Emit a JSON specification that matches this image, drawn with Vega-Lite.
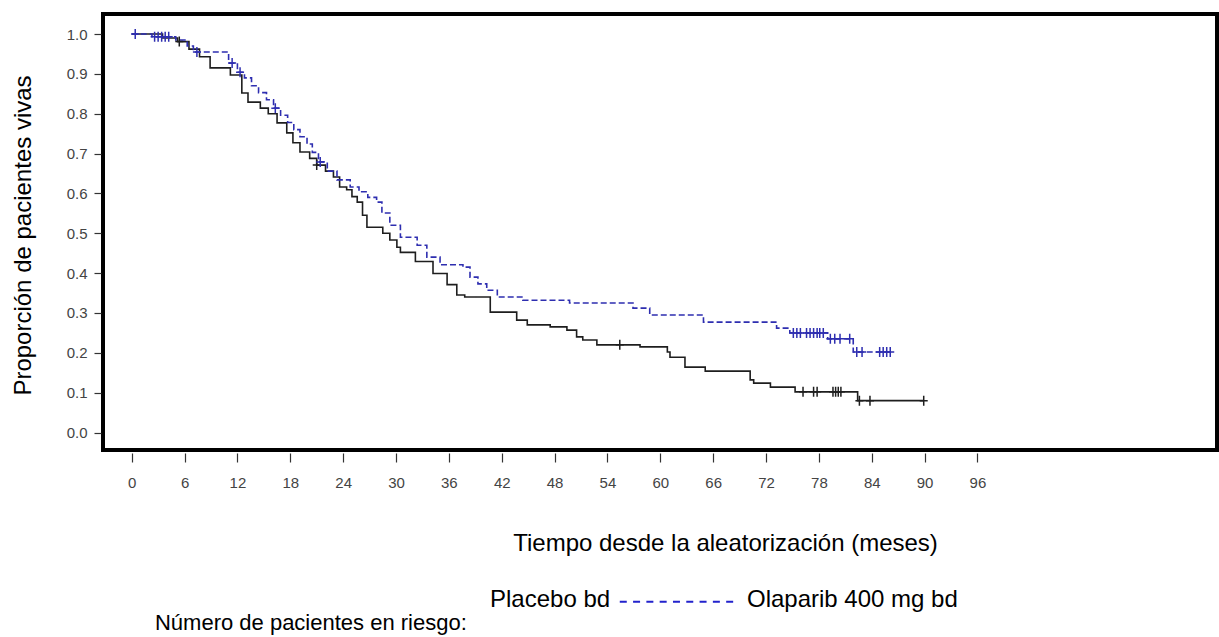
{
  "$schema": "https://vega.github.io/schema/vega-lite/v6.json",
  "width": 1114,
  "height": 436,
  "autosize": {"type": "none"},
  "padding": {"left": 103, "top": 14, "right": 2, "bottom": 187},
  "background": "white",
  "config": {
    "view": {"stroke": "black", "strokeWidth": 4},
    "font": "Liberation Sans"
  },
  "datasets": {
    "curves": [
      {"group": "Placebo bd", "month": 0, "surv": 1.0},
      {"group": "Placebo bd", "month": 3.5, "surv": 0.99},
      {"group": "Placebo bd", "month": 5.2, "surv": 0.981},
      {"group": "Placebo bd", "month": 6.5, "surv": 0.962},
      {"group": "Placebo bd", "month": 7.7, "surv": 0.943},
      {"group": "Placebo bd", "month": 8.9, "surv": 0.915},
      {"group": "Placebo bd", "month": 11.2, "surv": 0.897},
      {"group": "Placebo bd", "month": 12.5, "surv": 0.852},
      {"group": "Placebo bd", "month": 13.2, "surv": 0.829},
      {"group": "Placebo bd", "month": 14.6, "surv": 0.814},
      {"group": "Placebo bd", "month": 15.5, "surv": 0.8},
      {"group": "Placebo bd", "month": 16.5, "surv": 0.777},
      {"group": "Placebo bd", "month": 17.6, "surv": 0.752},
      {"group": "Placebo bd", "month": 18.3, "surv": 0.727},
      {"group": "Placebo bd", "month": 19.1, "surv": 0.704},
      {"group": "Placebo bd", "month": 20.2, "surv": 0.688},
      {"group": "Placebo bd", "month": 21.0, "surv": 0.671},
      {"group": "Placebo bd", "month": 22.0, "surv": 0.656},
      {"group": "Placebo bd", "month": 22.9, "surv": 0.641},
      {"group": "Placebo bd", "month": 23.6, "surv": 0.616},
      {"group": "Placebo bd", "month": 24.4, "surv": 0.609},
      {"group": "Placebo bd", "month": 25.0, "surv": 0.592},
      {"group": "Placebo bd", "month": 25.6, "surv": 0.578},
      {"group": "Placebo bd", "month": 26.2, "surv": 0.545},
      {"group": "Placebo bd", "month": 26.7, "surv": 0.515},
      {"group": "Placebo bd", "month": 28.5, "surv": 0.5},
      {"group": "Placebo bd", "month": 29.3, "surv": 0.483},
      {"group": "Placebo bd", "month": 30.1, "surv": 0.465},
      {"group": "Placebo bd", "month": 30.5, "surv": 0.452},
      {"group": "Placebo bd", "month": 32.2, "surv": 0.429},
      {"group": "Placebo bd", "month": 34.2, "surv": 0.399},
      {"group": "Placebo bd", "month": 35.8, "surv": 0.371},
      {"group": "Placebo bd", "month": 36.9, "surv": 0.345},
      {"group": "Placebo bd", "month": 37.8, "surv": 0.34},
      {"group": "Placebo bd", "month": 40.7, "surv": 0.302},
      {"group": "Placebo bd", "month": 43.7, "surv": 0.282},
      {"group": "Placebo bd", "month": 44.9, "surv": 0.27},
      {"group": "Placebo bd", "month": 47.5, "surv": 0.265},
      {"group": "Placebo bd", "month": 49.4, "surv": 0.257},
      {"group": "Placebo bd", "month": 50.5, "surv": 0.24},
      {"group": "Placebo bd", "month": 51.2, "surv": 0.232},
      {"group": "Placebo bd", "month": 52.8, "surv": 0.22},
      {"group": "Placebo bd", "month": 57.7, "surv": 0.215},
      {"group": "Placebo bd", "month": 60.8, "surv": 0.202},
      {"group": "Placebo bd", "month": 61.1, "surv": 0.189},
      {"group": "Placebo bd", "month": 62.8, "surv": 0.164},
      {"group": "Placebo bd", "month": 65.1, "surv": 0.154},
      {"group": "Placebo bd", "month": 70.2, "surv": 0.132},
      {"group": "Placebo bd", "month": 70.6, "surv": 0.124},
      {"group": "Placebo bd", "month": 72.5, "surv": 0.114},
      {"group": "Placebo bd", "month": 75.3, "surv": 0.102},
      {"group": "Placebo bd", "month": 82.4, "surv": 0.08},
      {"group": "Placebo bd", "month": 89.9, "surv": 0.08},
      {"group": "Olaparib 400 mg bd", "month": 0, "surv": 1.0},
      {"group": "Olaparib 400 mg bd", "month": 2.3, "surv": 0.993},
      {"group": "Olaparib 400 mg bd", "month": 5.0, "surv": 0.985},
      {"group": "Olaparib 400 mg bd", "month": 6.3, "surv": 0.97},
      {"group": "Olaparib 400 mg bd", "month": 7.0, "surv": 0.955},
      {"group": "Olaparib 400 mg bd", "month": 11.0, "surv": 0.927},
      {"group": "Olaparib 400 mg bd", "month": 12.0, "surv": 0.904},
      {"group": "Olaparib 400 mg bd", "month": 12.8, "surv": 0.89},
      {"group": "Olaparib 400 mg bd", "month": 13.6, "surv": 0.87},
      {"group": "Olaparib 400 mg bd", "month": 14.4, "surv": 0.853},
      {"group": "Olaparib 400 mg bd", "month": 15.3, "surv": 0.835},
      {"group": "Olaparib 400 mg bd", "month": 16.1, "surv": 0.814},
      {"group": "Olaparib 400 mg bd", "month": 16.9, "surv": 0.796},
      {"group": "Olaparib 400 mg bd", "month": 17.7, "surv": 0.778},
      {"group": "Olaparib 400 mg bd", "month": 18.4, "surv": 0.76},
      {"group": "Olaparib 400 mg bd", "month": 19.1, "surv": 0.742},
      {"group": "Olaparib 400 mg bd", "month": 19.9, "surv": 0.724},
      {"group": "Olaparib 400 mg bd", "month": 20.5, "surv": 0.703},
      {"group": "Olaparib 400 mg bd", "month": 21.2, "surv": 0.679},
      {"group": "Olaparib 400 mg bd", "month": 22.2, "surv": 0.656},
      {"group": "Olaparib 400 mg bd", "month": 23.3, "surv": 0.634},
      {"group": "Olaparib 400 mg bd", "month": 24.8, "surv": 0.616},
      {"group": "Olaparib 400 mg bd", "month": 25.8, "surv": 0.604},
      {"group": "Olaparib 400 mg bd", "month": 26.8, "surv": 0.59},
      {"group": "Olaparib 400 mg bd", "month": 27.8, "surv": 0.578},
      {"group": "Olaparib 400 mg bd", "month": 28.4, "surv": 0.551},
      {"group": "Olaparib 400 mg bd", "month": 29.3, "surv": 0.52},
      {"group": "Olaparib 400 mg bd", "month": 30.5, "surv": 0.49},
      {"group": "Olaparib 400 mg bd", "month": 32.4, "surv": 0.47},
      {"group": "Olaparib 400 mg bd", "month": 33.5, "surv": 0.44},
      {"group": "Olaparib 400 mg bd", "month": 35.0, "surv": 0.421},
      {"group": "Olaparib 400 mg bd", "month": 37.6, "surv": 0.415},
      {"group": "Olaparib 400 mg bd", "month": 38.4, "surv": 0.39},
      {"group": "Olaparib 400 mg bd", "month": 39.3, "surv": 0.373},
      {"group": "Olaparib 400 mg bd", "month": 40.3, "surv": 0.357},
      {"group": "Olaparib 400 mg bd", "month": 41.5, "surv": 0.34},
      {"group": "Olaparib 400 mg bd", "month": 44.4, "surv": 0.332},
      {"group": "Olaparib 400 mg bd", "month": 49.7, "surv": 0.325},
      {"group": "Olaparib 400 mg bd", "month": 56.9, "surv": 0.312},
      {"group": "Olaparib 400 mg bd", "month": 58.8, "surv": 0.295},
      {"group": "Olaparib 400 mg bd", "month": 64.9, "surv": 0.277},
      {"group": "Olaparib 400 mg bd", "month": 73.2, "surv": 0.262},
      {"group": "Olaparib 400 mg bd", "month": 74.7, "surv": 0.25},
      {"group": "Olaparib 400 mg bd", "month": 79.0, "surv": 0.235},
      {"group": "Olaparib 400 mg bd", "month": 81.9, "surv": 0.202},
      {"group": "Olaparib 400 mg bd", "month": 86.2, "surv": 0.202}
    ],
    "censors": [
      {"group": "Placebo bd", "month": 5.4, "surv": 0.981},
      {"group": "Placebo bd", "month": 21.0, "surv": 0.671},
      {"group": "Placebo bd", "month": 55.4, "surv": 0.22},
      {"group": "Placebo bd", "month": 76.2, "surv": 0.102},
      {"group": "Placebo bd", "month": 77.4, "surv": 0.102},
      {"group": "Placebo bd", "month": 77.8, "surv": 0.102},
      {"group": "Placebo bd", "month": 79.6, "surv": 0.102},
      {"group": "Placebo bd", "month": 79.9, "surv": 0.102},
      {"group": "Placebo bd", "month": 80.2, "surv": 0.102},
      {"group": "Placebo bd", "month": 80.5, "surv": 0.102},
      {"group": "Placebo bd", "month": 82.6, "surv": 0.08},
      {"group": "Placebo bd", "month": 83.8, "surv": 0.08},
      {"group": "Placebo bd", "month": 89.9, "surv": 0.08},
      {"group": "Olaparib 400 mg bd", "month": 0.4, "surv": 1.0},
      {"group": "Olaparib 400 mg bd", "month": 2.6, "surv": 0.993},
      {"group": "Olaparib 400 mg bd", "month": 3.0, "surv": 0.993},
      {"group": "Olaparib 400 mg bd", "month": 3.4, "surv": 0.993},
      {"group": "Olaparib 400 mg bd", "month": 3.8, "surv": 0.993},
      {"group": "Olaparib 400 mg bd", "month": 4.2, "surv": 0.993},
      {"group": "Olaparib 400 mg bd", "month": 7.4, "surv": 0.955},
      {"group": "Olaparib 400 mg bd", "month": 11.4, "surv": 0.927},
      {"group": "Olaparib 400 mg bd", "month": 12.3, "surv": 0.904},
      {"group": "Olaparib 400 mg bd", "month": 16.3, "surv": 0.814},
      {"group": "Olaparib 400 mg bd", "month": 21.4, "surv": 0.679},
      {"group": "Olaparib 400 mg bd", "month": 75.1, "surv": 0.25},
      {"group": "Olaparib 400 mg bd", "month": 75.5, "surv": 0.25},
      {"group": "Olaparib 400 mg bd", "month": 75.9, "surv": 0.25},
      {"group": "Olaparib 400 mg bd", "month": 76.6, "surv": 0.25},
      {"group": "Olaparib 400 mg bd", "month": 77.0, "surv": 0.25},
      {"group": "Olaparib 400 mg bd", "month": 77.4, "surv": 0.25},
      {"group": "Olaparib 400 mg bd", "month": 77.8, "surv": 0.25},
      {"group": "Olaparib 400 mg bd", "month": 78.1, "surv": 0.25},
      {"group": "Olaparib 400 mg bd", "month": 78.5, "surv": 0.25},
      {"group": "Olaparib 400 mg bd", "month": 79.3, "surv": 0.235},
      {"group": "Olaparib 400 mg bd", "month": 79.8, "surv": 0.235},
      {"group": "Olaparib 400 mg bd", "month": 80.4, "surv": 0.235},
      {"group": "Olaparib 400 mg bd", "month": 81.5, "surv": 0.235},
      {"group": "Olaparib 400 mg bd", "month": 82.3, "surv": 0.202},
      {"group": "Olaparib 400 mg bd", "month": 82.9, "surv": 0.202},
      {"group": "Olaparib 400 mg bd", "month": 84.9, "surv": 0.202},
      {"group": "Olaparib 400 mg bd", "month": 85.3, "surv": 0.202},
      {"group": "Olaparib 400 mg bd", "month": 85.7, "surv": 0.202},
      {"group": "Olaparib 400 mg bd", "month": 86.1, "surv": 0.202}
    ],
    "labels": [
      {"key": "placebo", "label": "Placebo bd"},
      {"key": "olaparib", "label": "Olaparib 400 mg bd"},
      {"key": "risk", "label": "Número de pacientes en riesgo:"}
    ]
  },
  "layer": [
    {
      "data": {"name": "curves"},
      "mark": {"type": "line", "interpolate": "step-after", "strokeWidth": 1.6},
      "encoding": {
        "x": {
          "field": "month", "type": "quantitative",
          "scale": {"domain": [-3.258, 123.19], "nice": false, "zero": false},
          "axis": {
            "values": [0, 6, 12, 18, 24, 30, 36, 42, 48, 54, 60, 66, 72, 78, 84, 90, 96],
            "domain": false, "grid": false,
            "tickSize": 9, "tickColor": "#333333", "tickWidth": 1.2,
            "offset": 3,
            "labelFont": "Liberation Sans", "labelFontSize": 15, "labelColor": "#444444",
            "labelPadding": 13, "labelFlush": false, "labelOverlap": false, "labelBound": false,
            "title": "Tiempo desde la aleatorización (meses)",
            "titleFont": "Liberation Sans", "titleFontSize": 24, "titleFontWeight": "normal",
            "titleColor": "black", "titleX": 622, "titleY": 97,
            "titleAlign": "center", "titleBaseline": "alphabetic"
          }
        },
        "y": {
          "field": "surv", "type": "quantitative",
          "scale": {"domain": [-0.0439, 1.0502], "nice": false, "zero": false},
          "axis": {
            "values": [0, 0.1, 0.2, 0.3, 0.4, 0.5, 0.6, 0.7, 0.8, 0.9, 1.0],
            "format": ".1f",
            "domain": false, "grid": false,
            "tickSize": 7, "tickColor": "#333333", "tickWidth": 1.2,
            "offset": 2,
            "labelFont": "Liberation Sans", "labelFontSize": 15, "labelColor": "#444444",
            "labelPadding": 7, "labelOverlap": false, "labelBound": false,
            "title": "Proporción de pacientes vivas",
            "titleFont": "Liberation Sans", "titleFontSize": 24, "titleFontWeight": "normal",
            "titleColor": "black", "titleX": -71, "titleY": 221, "titleAlign": "center", "titleBaseline": "alphabetic"
          }
        },
        "color": {
          "field": "group", "type": "nominal",
          "scale": {"domain": ["Placebo bd", "Olaparib 400 mg bd"], "range": ["#1e1e1e", "#2e2eb0"]},
          "legend": null
        },
        "strokeDash": {
          "field": "group", "type": "nominal",
          "scale": {"domain": ["Placebo bd", "Olaparib 400 mg bd"], "range": [[1, 0], [6, 3]]},
          "legend": null
        }
      }
    },
    {
      "data": {"name": "censors"},
      "mark": {"type": "point", "shape": "M0,-1L0,1M-0.8,0L0.8,0", "filled": false, "size": 100, "strokeWidth": 1.5, "opacity": 1},
      "encoding": {
        "x": {"field": "month", "type": "quantitative", "scale": {"domain": [-3.258, 123.19], "nice": false, "zero": false}},
        "y": {"field": "surv", "type": "quantitative", "scale": {"domain": [-0.0439, 1.0502], "nice": false, "zero": false}},
        "color": {
          "field": "group", "type": "nominal",
          "scale": {"domain": ["Placebo bd", "Olaparib 400 mg bd"], "range": ["#1e1e1e", "#2e2eb0"]},
          "legend": null
        }
      }
    },
    {
      "data": {"name": "labels"},
      "transform": [{"filter": "datum.key === 'placebo'"}],
      "mark": {"type": "text", "align": "left", "baseline": "alphabetic", "font": "Liberation Sans", "fontSize": 24, "color": "black"},
      "encoding": {
        "x": {"datum": 40.67, "type": "quantitative"},
        "y": {"datum": -0.4379, "type": "quantitative"},
        "text": {"field": "label"}
      }
    },
    {
      "data": {"name": "labels"},
      "transform": [{"filter": "datum.key === 'olaparib'"}],
      "mark": {"type": "text", "align": "left", "baseline": "alphabetic", "font": "Liberation Sans", "fontSize": 24, "color": "black"},
      "encoding": {
        "x": {"datum": 69.84, "type": "quantitative"},
        "y": {"datum": -0.4379, "type": "quantitative"},
        "text": {"field": "label"}
      }
    },
    {
      "data": {"name": "labels"},
      "transform": [{"filter": "datum.key === 'risk'"}],
      "mark": {"type": "text", "align": "left", "baseline": "alphabetic", "font": "Liberation Sans", "fontSize": 22, "color": "black"},
      "encoding": {
        "x": {"datum": 2.64, "type": "quantitative"},
        "y": {"datum": -0.4956, "type": "quantitative"},
        "text": {"field": "label"}
      }
    },
    {
      "data": {"name": "labels"},
      "transform": [{"filter": "datum.key === 'olaparib'"}],
      "mark": {"type": "rule", "color": "#2222cc", "strokeWidth": 2, "strokeDash": [7, 6.3]},
      "encoding": {
        "x": {"datum": 55.4, "type": "quantitative"},
        "x2": {"datum": 68.71},
        "y": {"datum": -0.4246, "type": "quantitative"}
      }
    }
  ]
}
